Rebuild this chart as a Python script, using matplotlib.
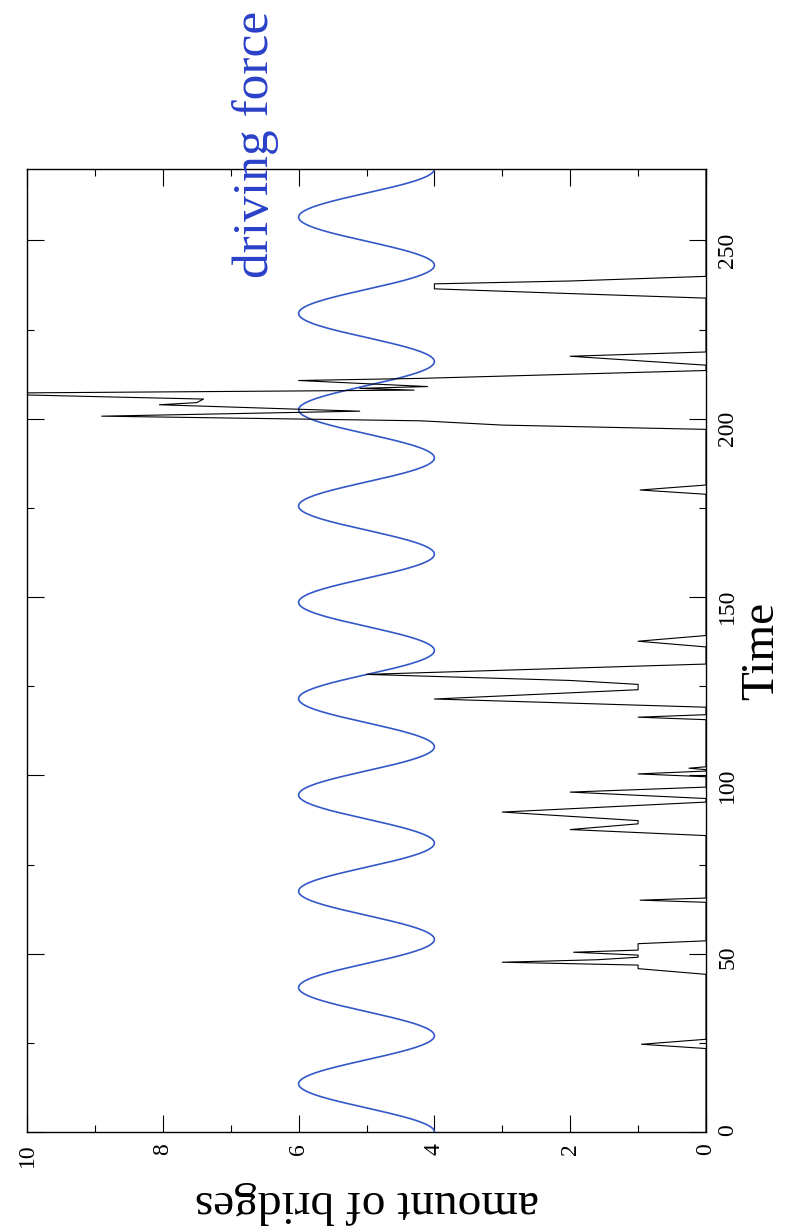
import numpy as np
import matplotlib
matplotlib.use("Agg")
import matplotlib.pyplot as plt
from matplotlib.ticker import MultipleLocator

# ---- data ----
# amount of bridges vs time (piecewise samples)
bridge_time = [0, 23.4, 24.6, 26.0,
               44.2, 45.8, 46.8, 47.6, 48.3, 49.0, 49.6, 50.4, 51.0, 52.8, 53.6,
               64.4, 65.0, 65.6,
               83.1, 84.8, 86.4, 87.3, 89.7, 92.5,
               93.5, 95.3, 96.7,
               99.6, 100.4, 101.2, 101.6, 102.0, 102.4,
               115.6, 116.3, 117.0,
               119.1, 121.4, 124.0, 125.5, 126.6, 128.3, 131.2,
               136.0, 137.6, 139.2,
               178.8, 180.0, 181.4,
               197.0, 198.2, 199.4, 200.7, 202.1, 203.9, 204.5, 205.5, 206.1, 207.1,
               208.0, 208.5, 209.0, 210.7, 211.3, 213.5,
               215.0, 217.5, 218.7,
               233.8, 235.2, 236.4, 237.8, 238.6, 239.9,
               270.0]
bridge_amount = [0, 0, 0.95, 0,
                 0, 1.0, 1.0, 3.0, 1.6, 1.0, 1.0, 1.95, 1.0, 1.0, 0,
                 0, 0.97, 0,
                 0, 2.0, 1.0, 1.0, 3.0, 0,
                 0, 2.0, 0,
                 0, 1.0, 0, 0, 0.25, 0,
                 0, 1.0, 0,
                 0, 4.0, 1.0, 1.0, 2.0, 5.0, 0,
                 0, 1.0, 0,
                 0, 0.97, 0,
                 0, 3.0, 4.2, 8.9, 5.1, 8.05, 7.5, 7.4, 8.8, 11.0,
                 4.3, 5.1, 4.1, 6.0, 4.2, 0,
                 0, 2.0, 0,
                 0, 2.2, 4.0, 4.0, 2.0, 0,
                 0]

# driving force: sinusoid (mean 5, amplitude 1, period 27, starts at trough)
drive_mean = 5.0
drive_amp = 1.0
drive_period = 27.0
time_end = 270.0

amount_ticks = [0, 2, 4, 6, 8, 10]
time_ticks = [0, 50, 100, 150, 200, 250]

plt.rcParams['font.family'] = ['Liberation Serif', 'DejaVu Serif']

fig = plt.figure(figsize=(7.86, 12.32), dpi=100)
ax = fig.add_axes([27/786, 1 - 1132/1232, (706 - 27)/786, (1132 - 169)/1232])

t_drive = np.linspace(0, time_end, 3000)
drive = drive_mean - drive_amp * np.cos(2 * np.pi * t_drive / drive_period)

blue = '#3358c8'
ax.plot(drive, t_drive, color=blue, lw=1.2)
ax.plot(bridge_amount, bridge_time, color='black', lw=0.8)

ax.set_xlim(10, 0)
ax.set_ylim(0, time_end)

ax.set_xticks(amount_ticks)
ax.xaxis.set_minor_locator(MultipleLocator(1))
ax.set_yticks(time_ticks)
ax.yaxis.set_minor_locator(MultipleLocator(25))

ax.tick_params(axis='both', which='both', direction='in', top=True, bottom=True,
               left=True, right=True, width=0.8, color='black')
ax.tick_params(axis='both', which='major', length=12)
ax.tick_params(axis='both', which='minor', length=5)
ax.tick_params(axis='x', labelsize=17, labelrotation=90, pad=8)
ax.tick_params(axis='y', labelsize=17, labelrotation=90, pad=8,
               labelleft=False, labelright=True)

for s in ax.spines.values():
    s.set_linewidth(1.0)

ax.set_xlabel('amount of bridges', fontsize=34, rotation=180, labelpad=10)
ax.yaxis.set_label_position('right')
ax.set_ylabel('Time', fontsize=34, rotation=90, labelpad=2)

ax.text(6.64, 276.8, 'driving force', rotation=90, color='#2a40c8', fontsize=37,
        ha='center', va='center', clip_on=False)

fig.savefig('out.png', dpi=100)
